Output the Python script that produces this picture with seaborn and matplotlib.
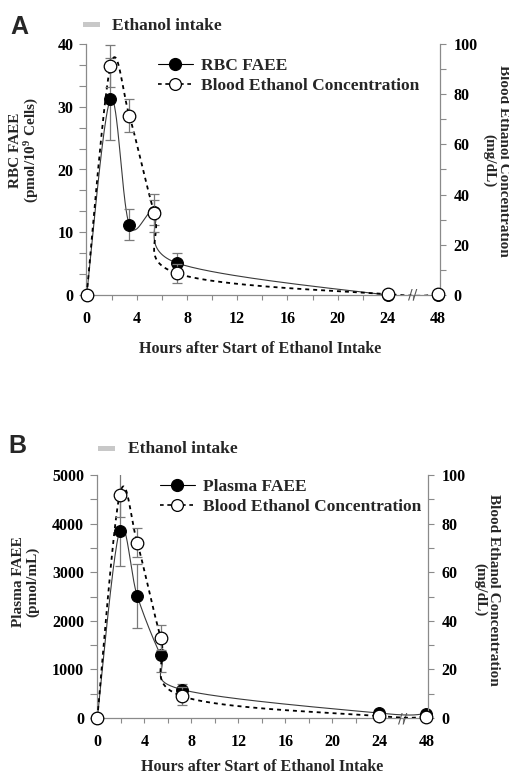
import numpy as np
import pandas as pd
import matplotlib
matplotlib.use("Agg")
import matplotlib.pyplot as plt
import seaborn as sns
from matplotlib.lines import Line2D
from matplotlib.patches import Rectangle

# ---------------- data ----------------
hours = [0, 1.9, 3.4, 5.4, 7.2, 24, 48]
tick_hours = [0, 4, 8, 12, 16, 20, 24, 48]

rbc_faee = [0, 31.2, 11.2, 13.2, 5.1, 0, 0]
rbc_faee_err = [0, 6.5, 2.5, 2.0, 1.6, 0, 0]
bec_a = [0, 91.3, 71.5, 32.6, 8.6, 0.3, 0.3]
bec_a_err = [0, 8.5, 6.5, 7.5, 3.9, 0, 0]

plasma_faee = [0, 3850, 2510, 1290, 585, 100, 90]
plasma_faee_err = [0, 720, 650, 345, 120, 0, 0]
bec_b = [0, 91.8, 72.1, 33.1, 9.0, 0.8, 0.5]
bec_b_err = [0, 9.0, 6.0, 5.0, 3.6, 0, 0]

# ---------------- style ----------------
sns.set_theme(style="ticks")
plt.rcParams["font.family"] = ["Liberation Serif", "DejaVu Serif"]
plt.rcParams["font.weight"] = "bold"
plt.rcParams["mathtext.fontset"] = "custom"
plt.rcParams["mathtext.rm"] = "Liberation Serif:bold"
plt.rcParams["mathtext.bf"] = "Liberation Serif:bold"
plt.rcParams["mathtext.default"] = "bf"

W, H = 509, 774
fig = plt.figure(figsize=(W / 100, H / 100), dpi=100)

AXC = "#8a8a8a"
ERRC = "#7a7a7a"


def hx(h):
    # broken time axis: 48 h drawn at the 28 h position
    return h if h <= 24 else 24 + (h - 24) / 6.0


def smooth(xs, ys, ax, xlim, ylim, n=40):
    pos = ax.get_position()
    wpx = pos.width * W
    hpx = pos.height * H
    u = (np.asarray(xs, float) - xlim[0]) / (xlim[1] - xlim[0]) * wpx
    v = (np.asarray(ys, float) - ylim[0]) / (ylim[1] - ylim[0]) * hpx
    P = np.column_stack([u, v])
    out = []
    t = np.linspace(0, 1, n)[:, None]
    m = len(P)
    for i in range(m - 1):
        p0 = P[max(i - 1, 0)]
        p1 = P[i]
        p2 = P[i + 1]
        p3 = P[min(i + 2, m - 1)]
        c1 = p1 + (p2 - p0) / 6.0
        c2 = p2 - (p3 - p1) / 6.0
        B = (1 - t) ** 3 * p1 + 3 * (1 - t) ** 2 * t * c1 + 3 * (1 - t) * t ** 2 * c2 + t ** 3 * p2
        out.append(B if i == 0 else B[1:])
    B = np.vstack(out)
    bx = B[:, 0] / wpx * (xlim[1] - xlim[0]) + xlim[0]
    by = B[:, 1] / hpx * (ylim[1] - ylim[0]) + ylim[0]
    return bx, by


def panel(rect, faee, faee_err, bec, bec_err, ylim_left, yticks_left, ylabels_left):
    ax = fig.add_axes(rect)
    ax2 = ax.twinx()
    xlim = (-0.05, 28.12)
    ylim_r = (0, 100)
    xs = [hx(h) for h in hours]
    ax.set_xlim(*xlim)
    ax.set_ylim(*ylim_left)
    ax2.set_ylim(*ylim_r)

    # FAEE (left axis)
    sx, sy = smooth(xs, faee, ax, xlim, ylim_left)
    sns.lineplot(x=sx, y=sy, ax=ax, sort=False, estimator=None, color="#3a3a3a",
                 linewidth=0.8, zorder=2)
    ax.errorbar(xs, faee, yerr=faee_err, fmt="none", ecolor=ERRC, elinewidth=0.9,
                capsize=3.5, capthick=0.9, zorder=3)
    sns.scatterplot(x=xs, y=faee, ax=ax, s=72, color="black", edgecolor="black",
                    linewidth=0.8, zorder=4, clip_on=False)

    # Blood ethanol (right axis)
    bx, by = smooth(xs, bec, ax2, xlim, ylim_r)
    sns.lineplot(x=bx, y=by, ax=ax2, sort=False, estimator=None, color="black",
                 linewidth=1.3, linestyle=(0, (2.2, 2.2)), zorder=2)
    ax2.errorbar(xs, bec, yerr=bec_err, fmt="none", ecolor=ERRC, elinewidth=0.9,
                 capsize=3.5, capthick=0.9, zorder=3)
    sns.scatterplot(x=xs, y=bec, ax=ax2, s=82, color="white", edgecolor="black",
                    linewidth=0.9, zorder=4, clip_on=False)

    # axes styling
    for a in (ax, ax2):
        a.spines["top"].set_visible(False)
        for s in ("left", "right", "bottom"):
            a.spines[s].set_color(AXC)
            a.spines[s].set_linewidth(0.9)
        a.grid(False)
    ax.spines["right"].set_visible(False)
    ax2.spines["left"].set_visible(False)
    ax2.spines["bottom"].set_visible(False)

    xt = np.arange(0, 29, 2)
    ax.set_xticks(xt)
    ax.set_xticklabels([str(tick_hours[list(range(0, 29, 4)).index(int(v))]) if v % 4 == 0 else ""
                        for v in xt])
    ax.set_yticks(yticks_left)
    ax.set_yticklabels(ylabels_left)
    rt = np.arange(0, 101, 10)
    ax2.set_yticks(rt)
    ax2.set_yticklabels([str(int(v)) if v % 20 == 0 else "" for v in rt])

    ax.tick_params(axis="x", direction="out", length=3.5, width=0.8, color=AXC,
                   pad=8, labelsize=11.5, labelcolor="black")
    ax.tick_params(axis="y", direction="out", length=5, width=0.8, color=AXC,
                   pad=4, labelsize=11.5, labelcolor="black")
    ax2.tick_params(axis="y", direction="out", length=4, width=0.8, color=AXC,
                    pad=6, labelsize=11.5, labelcolor="black")
    ax.set_xlabel("")
    ax.set_ylabel("")
    ax2.set_ylabel("")
    for lab in ax.get_xticklabels() + ax.get_yticklabels() + ax2.get_yticklabels():
        lab.set_fontweight("bold")

    # axis break mark
    ax.text(26, ylim_left[0], "//", ha="center", va="center", fontsize=10,
            color="#555555", family="DejaVu Sans", fontweight="normal", clip_on=False,
            zorder=5)
    return ax, ax2


def fx(px):
    return px / W


def fy(py):
    return 1 - py / H


# ---------------- panel A ----------------
rectA = [fx(86), fy(295), fx(439.5) - fx(86), fy(44) - fy(295)]
ytA = list(np.linspace(0, 40, 13))
ylA = [str(int(round(v))) if abs(v % 10) < 1e-6 or abs(v % 10 - 10) < 1e-6 else "" for v in ytA]
panel(rectA, rbc_faee, rbc_faee_err, bec_a, bec_a_err, (0, 40), ytA, ylA)

# ---------------- panel B ----------------
rectB = [fx(96.7), fy(718), fx(427.7) - fx(96.7), fy(475) - fy(718)]
ytB = list(np.arange(0, 5001, 500))
ylB = [str(int(v)) if v % 1000 == 0 else "" for v in ytB]
panel(rectB, plasma_faee, plasma_faee_err, bec_b, bec_b_err, (0, 5000), ytB, ylB)

# ---------------- texts ----------------
fig.text(fx(19.5), fy(26.5), "A", family="Liberation Sans", fontweight="bold",
         fontsize=18, ha="center", va="center")
fig.text(fx(17.5), fy(446), "B", family="Liberation Sans", fontweight="bold",
         fontsize=18, ha="center", va="center")

for (rx, ry, tx, ty) in [(83, 22, 112, 25.5), (98, 446, 128, 449)]:
    fig.add_artist(Rectangle((fx(rx), fy(ry + 5)), fx(rx + 17) - fx(rx), fy(ry) - fy(ry + 5),
                             transform=fig.transFigure, facecolor="#c8c8c8",
                             edgecolor="none"))
    fig.text(fx(tx), fy(ty), "Ethanol intake", fontsize=12.5, ha="left", va="center")

fig.text(fx(260), fy(349), "Hours after Start of Ethanol Intake", fontsize=11.5,
         ha="center", va="center")
fig.text(fx(262), fy(767), "Hours after Start of Ethanol Intake", fontsize=11.5,
         ha="center", va="center")

fig.text(fx(25), fy(150), "RBC FAEE\n(pmol/10$^{9}$ Cells)", rotation=90, fontsize=11,
         ha="center", va="center", multialignment="center", linespacing=1.1)
fig.text(fx(496), fy(161), "Blood Ethanol Concentration\n(mg/dL)", rotation=270,
         fontsize=11, ha="center", va="center", multialignment="center", linespacing=1.05)
fig.text(fx(26), fy(582), "Plasma FAEE\n(pmol/mL)", rotation=90, fontsize=11,
         ha="center", va="center", multialignment="center", linespacing=1.1)
fig.text(fx(487), fy(590), "Blood Ethanol Concentration\n(mg/dL)", rotation=270,
         fontsize=11, ha="center", va="center", multialignment="center", linespacing=1.05)

# ---------------- legends ----------------
def handles():
    h1 = Line2D([], [], color="black", lw=0.8, marker="o", ms=8.5, mfc="black", mec="black")
    h2 = Line2D([], [], color="black", lw=1.2, ls=(0, (2.2, 2.2)), marker="o", ms=8.5,
                mfc="white", mec="black", mew=0.9)
    return [h1, h2]


for (lx, ly, lab) in [(158, 58, "RBC FAEE"), (160, 479, "Plasma FAEE")]:
    leg = fig.legend(handles(), [lab, "Blood Ethanol Concentration"], loc="upper left",
                     bbox_to_anchor=(fx(lx), fy(ly)), frameon=False, fontsize=12.5,
                     handlelength=2.0, handletextpad=0.45, borderpad=0, borderaxespad=0,
                     labelspacing=0.2)
    for t in leg.get_texts():
        t.set_fontweight("bold")

fig.savefig("out.png", dpi=100)
